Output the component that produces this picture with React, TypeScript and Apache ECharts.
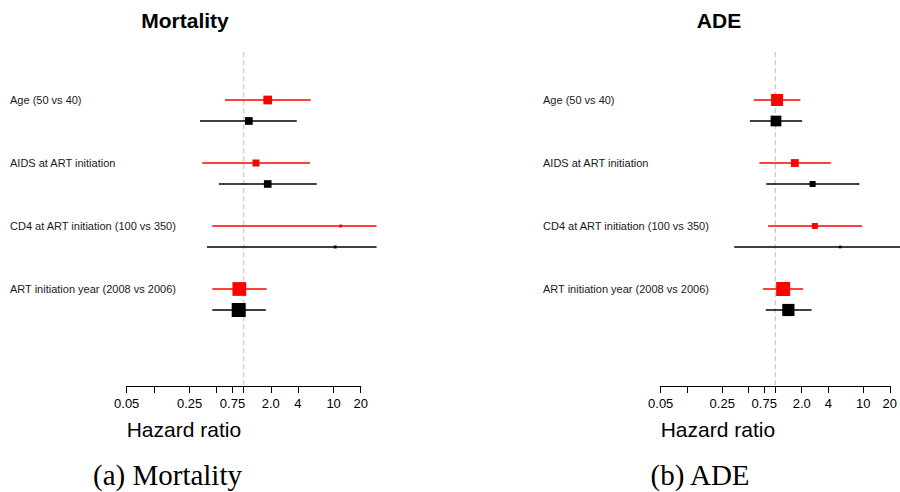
import React, { useEffect, useRef } from "react";
import * as echarts from "echarts";

// ---------- data ----------
const rowLabels = [
  "Age (50 vs 40)",
  "AIDS at ART initiation",
  "CD4 at ART initiation (100 vs 350)",
  "ART initiation year (2008 vs 2006)",
];
const tickValues = [0.05, 0.1, 0.25, 0.5, 0.75, 1, 2, 4, 10, 20];
const tickLabels = ["0.05", "0.25", "0.75", "2.0", "4", "10", "20"];
const nullEffect = 1;
const plotLimitHR = 30;

// Mortality panel (hazard ratios and 95% CI)
const mortRedEst = [1.85, 1.37, 12.0, 0.894];
const mortRedLo = [0.62, 0.346, 0.448, 0.448];
const mortRedHi = [5.56, 5.46, 321, 1.8];
const mortBlackEst = [1.14, 1.85, 10.4, 0.88];
const mortBlackLo = [0.327, 0.53, 0.39, 0.448];
const mortBlackHi = [3.89, 6.49, 275, 1.76];

// ADE panel
const adeRedEst = [1.05, 1.67, 2.82, 1.23];
const adeRedLo = [0.57, 0.66, 0.83, 0.727];
const adeRedHi = [1.93, 4.29, 9.7, 2.07];
const adeBlackEst = [1.02, 2.66, 5.46, 1.41];
const adeBlackLo = [0.516, 0.79, 0.342, 0.78];
const adeBlackHi = [2.02, 9.04, 87, 2.59];

// ---------- layout ----------
const W = 900;
const H = 492;
const gridTop = 52;
const gridBottom = 106;
const yMin = -0.762;
const yMax = 4.54;
const pairOffset = 1 / 3;
const maxBox = 14;
const sansFont = "'Liberation Sans', Arial, Helvetica, sans-serif";
const serifFont = "'Liberation Serif', 'Times New Roman', serif";

const lg = (v: number) => Math.log10(v);

function ciWidths(lo: number[], hi: number[]) {
  return lo.map((l, i) => lg(hi[i]) - lg(l));
}

function buildData(est: number[], lo: number[], hi: number[], offset: number) {
  return est.map((e, i) => [lg(lo[i]), lg(e), lg(hi[i]), i + offset]);
}

function makeSeries(
  name: string,
  axisIndex: number,
  color: string,
  data: number[][],
  minW: number
) {
  const clipLog = lg(plotLimitHR);
  return {
    type: "custom",
    name,
    xAxisIndex: axisIndex,
    yAxisIndex: axisIndex,
    clip: false,
    encode: { x: [0, 1, 2], y: 3 },
    data,
    z: 3,
    renderItem: (params: any, api: any) => {
      const lo = api.value(0);
      const est = api.value(1);
      const hi = api.value(2);
      const y = api.value(3);
      const hiC = Math.min(hi, clipLog);
      const p1 = api.coord([lo, y]);
      const p2 = api.coord([hiC, y]);
      const pc = api.coord([est, y]);
      const side = (maxBox * minW) / (hi - lo);
      return {
        type: "group",
        children: [
          {
            type: "line",
            shape: { x1: p1[0], y1: p1[1], x2: p2[0], y2: p2[1] },
            style: { stroke: color, lineWidth: 1.5 },
          },
          {
            type: "rect",
            shape: { x: pc[0] - side / 2, y: pc[1] - side / 2, width: side, height: side },
            style: { fill: color },
          },
        ],
      };
    },
  };
}

function refLineSeries(axisIndex: number) {
  return {
    type: "custom",
    xAxisIndex: axisIndex,
    yAxisIndex: axisIndex,
    clip: false,
    silent: true,
    z: 1,
    encode: { x: 0 },
    data: [[lg(nullEffect)]],
    renderItem: (params: any, api: any) => {
      const cs = params.coordSys;
      const x = api.coord([api.value(0), 0])[0];
      return {
        type: "line",
        shape: { x1: x, y1: cs.y, x2: x, y2: cs.y + cs.height },
        style: { stroke: "#cfcfcf", lineWidth: 1.5, lineDash: [5, 3] },
      };
    },
  };
}

function xAxisFor(gridIndex: number) {
  return {
    type: "value",
    gridIndex,
    min: lg(tickValues[0]),
    max: lg(tickValues[tickValues.length - 1]),
    axisLine: { show: true, onZero: false, lineStyle: { color: "#000", width: 1 } },
    axisTick: {
      show: true,
      length: 7,
      customValues: tickValues.map(lg),
      lineStyle: { color: "#000", width: 1 },
    },
    axisLabel: {
      show: true,
      customValues: tickLabels.map((t) => lg(parseFloat(t))),
      formatter: (v: number) => {
        const idx = tickLabels.findIndex((t) => Math.abs(lg(parseFloat(t)) - v) < 1e-6);
        return idx >= 0 ? tickLabels[idx] : "";
      },
      color: "#000",
      fontSize: 13,
      fontFamily: sansFont,
      margin: 11,
    },
    splitLine: { show: false },
  };
}

function yAxisFor(gridIndex: number, margin: number) {
  return {
    type: "value",
    gridIndex,
    inverse: true,
    min: yMin,
    max: yMax,
    axisLine: { show: false },
    axisTick: { show: false },
    splitLine: { show: false },
    axisLabel: {
      show: true,
      customValues: rowLabels.map((_, i) => i),
      formatter: (v: number) => rowLabels[Math.round(v)] ?? "",
      align: "left",
      verticalAlign: "middle",
      margin,
      color: "#1a1a1a",
      fontSize: 11,
      fontFamily: sansFont,
    },
  };
}

export default function App() {
  const ref = useRef<HTMLDivElement>(null);

  useEffect(() => {
    if (!ref.current) return;
    const chart = echarts.init(ref.current, undefined, { renderer: "svg" });

    const mortMinW = Math.min(
      ...ciWidths(mortRedLo, mortRedHi),
      ...ciWidths(mortBlackLo, mortBlackHi)
    );
    const adeMinW = Math.min(
      ...ciWidths(adeRedLo, adeRedHi),
      ...ciWidths(adeBlackLo, adeBlackHi)
    );

    const textEl = (text: string, x: number, y: number, font: string, align: string) => ({
      type: "text",
      x,
      y,
      style: { text, fill: "#000", font, align, verticalAlign: "middle" },
    });

    const option: any = {
      animation: false,
      backgroundColor: "#ffffff",
      grid: [
        { left: 126.7, width: 234, top: gridTop, bottom: gridBottom },
        { left: 660.7, width: 234.3, top: gridTop, bottom: gridBottom },
      ],
      xAxis: [xAxisFor(0), xAxisFor(1)],
      yAxis: [yAxisFor(0, 116.7), yAxisFor(1, 117.7)],
      series: [
        refLineSeries(0),
        refLineSeries(1),
        makeSeries("Mortality model A", 0, "#ff0000", buildData(mortRedEst, mortRedLo, mortRedHi, 0), mortMinW),
        makeSeries("Mortality model B", 0, "#000000", buildData(mortBlackEst, mortBlackLo, mortBlackHi, pairOffset), mortMinW),
        makeSeries("ADE model A", 1, "#ff0000", buildData(adeRedEst, adeRedLo, adeRedHi, 0), adeMinW),
        makeSeries("ADE model B", 1, "#000000", buildData(adeBlackEst, adeBlackLo, adeBlackHi, pairOffset), adeMinW),
      ],
      graphic: [
        textEl("Mortality", 185, 20, `bold 21px ${sansFont}`, "center"),
        textEl("ADE", 719, 20, `bold 21px ${sansFont}`, "center"),
        textEl("Hazard ratio", 126.7, 429, `21px ${sansFont}`, "left"),
        textEl("Hazard ratio", 660.7, 429, `21px ${sansFont}`, "left"),
        textEl("(a) Mortality", 93, 475, `29px ${serifFont}`, "left"),
        textEl("(b) ADE", 650.5, 475, `29px ${serifFont}`, "left"),
      ],
    };

    chart.setOption(option);
    return () => chart.dispose();
  }, []);

  return (
    <div
      ref={ref}
      style={{ position: "fixed", left: 0, top: 0, width: W, height: H, background: "#fff" }}
    />
  );
}
